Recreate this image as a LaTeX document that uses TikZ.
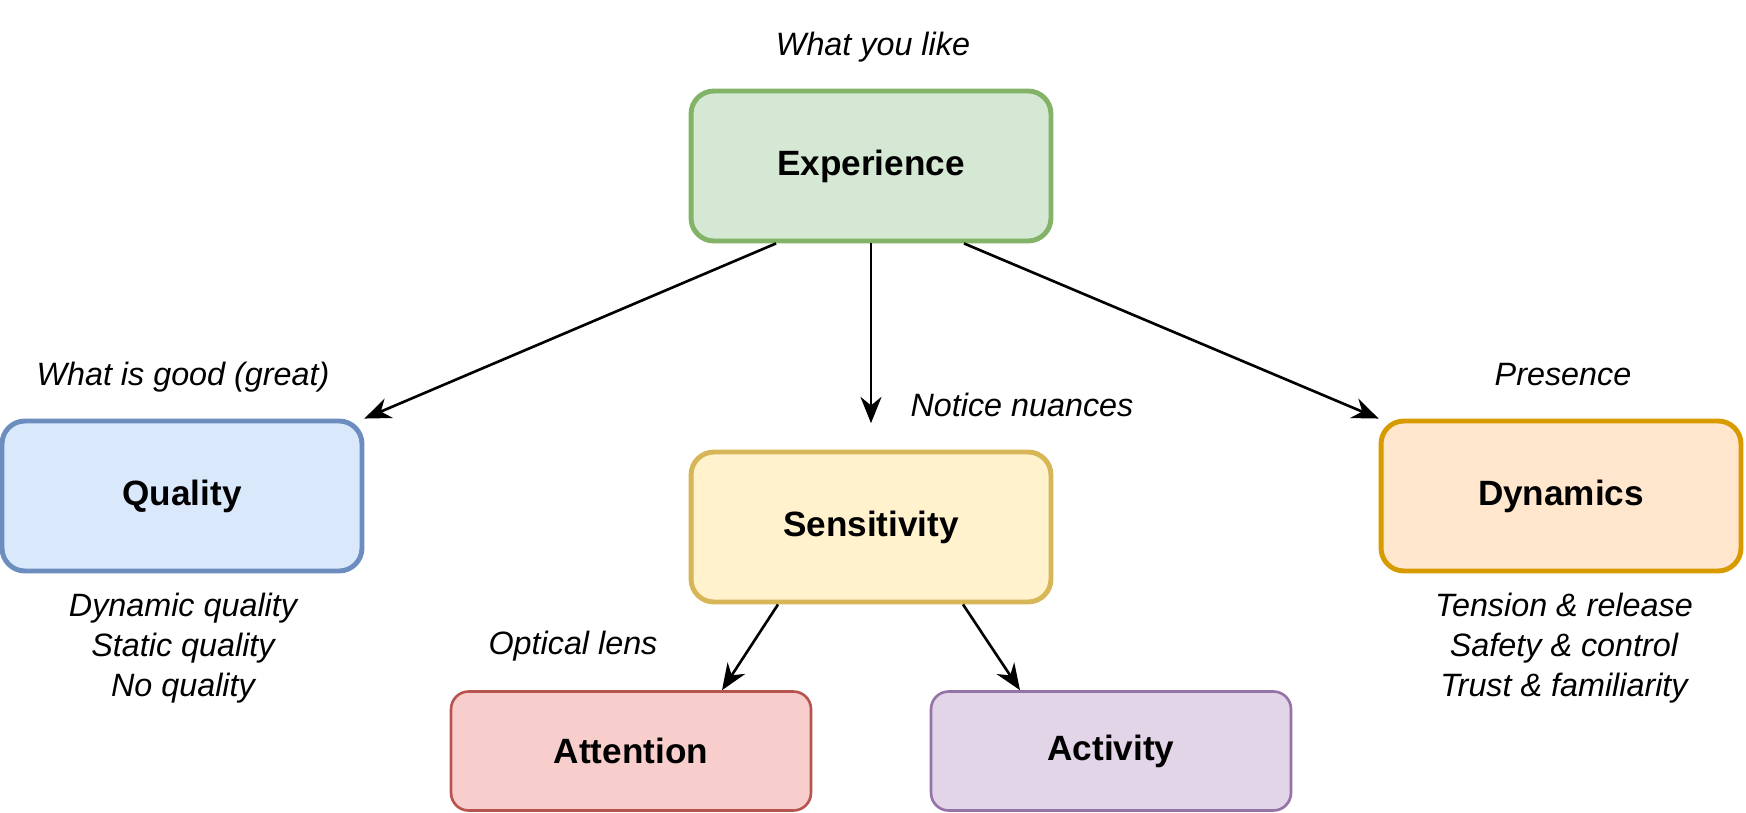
\documentclass[tikz,border=0pt]{standalone}
\usepackage{fontspec}
\setmainfont{Liberation Sans}
\usetikzlibrary{arrows.meta, calc}

\definecolor{grnfill}{HTML}{D5E8D4}\definecolor{grnline}{HTML}{82B366}
\definecolor{blufill}{HTML}{DAE8FC}\definecolor{bluline}{HTML}{6C8EBF}
\definecolor{yelfill}{HTML}{FFF2CC}\definecolor{yelline}{HTML}{D6B656}
\definecolor{orafill}{HTML}{FFE6CC}\definecolor{oraline}{HTML}{D79B00}
\definecolor{redfill}{HTML}{F8CECC}\definecolor{redline}{HTML}{B85450}
\definecolor{purfill}{HTML}{E1D5E7}\definecolor{purline}{HTML}{9673A6}

\begin{document}
\begin{tikzpicture}[
    x=0.02cm, y=-0.02cm,
    box/.style={draw, rounded corners=13pt, line width=2.8pt, align=center,
                minimum width=7.2cm, minimum height=3.0cm, inner sep=0pt,
                font=\fontsize{20}{24}\selectfont\bfseries},
    thinbox/.style={box, line width=1.5pt, minimum height=2.38cm, rounded corners=10pt},
    lbl/.style={font=\fontsize{18.4}{22.6}\selectfont\itshape, align=center, inner sep=0pt},
    flow/.style={-{Stealth[length=15pt, width=12pt]}, line width=1.5pt},
]
\useasboundingbox (0,0) rectangle (1746,813);
% Top: the experience box, three branches below it
\node[box, fill=grnfill, draw=grnline] (exp)  at (871,166)  {Experience};
\node[box, fill=blufill, draw=bluline] (qual) at (182,496)  {Quality};
\node[box, fill=yelfill, draw=yelline] (sens) at (871,527)  {Sensitivity};
\node[box, fill=orafill, draw=oraline] (dyn)  at (1561,496) {Dynamics};
% Bottom row under sensitivity
\node[thinbox, fill=redfill, draw=redline] (att) at (631,751)  {Attention};
\node[thinbox, fill=purfill, draw=purline] (act) at (1111,751) {Activity};

% Italic notes next to the boxes
\node[lbl] (likeNote)     at (873,47)   {What you like};
\node[lbl] (goodNote)     at (183,377)  {What is good (great)};
\node[lbl] (nuanceNote)   at (1022,405) {Notice nuances};
\node[lbl] (presenceNote) at (1563,375) {Presence};
\node[lbl] (lensNote)     at (573,646)  {Optical lens};
\node[lbl] (qualList)     at (183,648)  {Dynamic quality\\Static quality\\No quality};
\node[lbl] (dynList)      at (1564,648) {Tension \& release\\Safety \& control\\Trust \& familiarity};

% Arrows
\draw[flow] ($(exp.south)+(-95,0)$) -- (qual.north east);
\draw[flow, shorten >=15pt] (exp) -- (sens);
\draw[flow] ($(exp.south)+(93,0)$) -- (dyn.north west);
\draw[flow] ($(sens.south)+(-93,0)$) -- ($(att.north)+(91,0)$);
\draw[flow] ($(sens.south)+(92,0)$) -- ($(act.north)+(-91,0)$);
\end{tikzpicture}
\end{document}
